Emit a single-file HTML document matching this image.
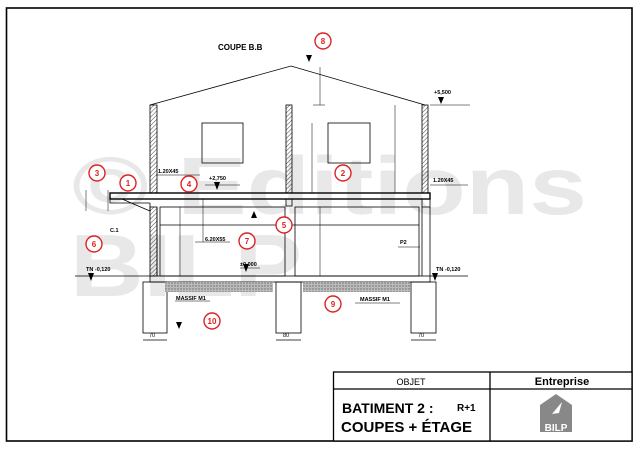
<!DOCTYPE html>
<html><head><meta charset="utf-8"><style>
html,body{margin:0;padding:0;background:#fff;}
svg{display:block;font-family:"Liberation Sans",sans-serif;}
</style></head><body>
<svg width="640" height="452" viewBox="0 0 640 452" xmlns="http://www.w3.org/2000/svg">
<defs>
<pattern id="h" width="3" height="3" patternUnits="userSpaceOnUse" patternTransform="rotate(45)">
<line x1="0" y1="0" x2="0" y2="3" stroke="#333" stroke-width="0.9"/></pattern>
<pattern id="m" width="3" height="3" patternUnits="userSpaceOnUse">
<rect width="3" height="3" fill="#bbb"/><circle cx="1" cy="1" r="0.7" fill="#666"/></pattern>
</defs>
<rect width="640" height="452" fill="#fff"/>
<!-- watermark -->
<text x="72" y="214" font-size="82" font-weight="bold" fill="#e8e8e8" textLength="515" lengthAdjust="spacingAndGlyphs">© Editions</text>
<text x="70" y="296" font-size="88" font-weight="bold" fill="#e8e8e8" textLength="232" lengthAdjust="spacingAndGlyphs">BILP</text>
<!-- frame -->
<rect x="6.5" y="8" width="625.5" height="433" fill="none" stroke="#000" stroke-width="1.6"/>
<!-- title block -->
<rect x="333.5" y="372" width="298.5" height="69" fill="#fff" stroke="#000" stroke-width="1.3"/>
<line x1="333.5" y1="389" x2="632" y2="389" stroke="#000" stroke-width="1.3"/>
<line x1="490" y1="372" x2="490" y2="441" stroke="#000" stroke-width="1.3"/>
<text x="411" y="385" font-size="9" text-anchor="middle">OBJET</text>
<text x="562" y="385" font-size="11" font-weight="bold" text-anchor="middle">Entreprise</text>
<text x="342" y="413" font-size="14" font-weight="bold">BATIMENT 2 :</text>
<text x="457" y="411" font-size="10" font-weight="bold">R+1</text>
<text x="341" y="432" font-size="15" font-weight="bold">COUPES  + ÉTAGE</text>
<path d="M540 405 L556 394 L572 405 L572 432 L540 432 Z" fill="#888"/>
<path d="M552 414 L562 402 L559 413 Z" fill="#fff"/>
<text x="556" y="431" font-size="10" font-weight="bold" fill="#fff" text-anchor="middle">BILP</text>
<!-- title -->
<text x="218" y="50" font-size="8" font-weight="bold">COUPE B.B</text>
<g stroke="#000" fill="none" stroke-width="0.8">
<polyline points="150,105 291,66 425,105"/>
<rect x="150" y="105" width="7" height="88" fill="url(#h)"/>
<rect x="286" y="105" width="6" height="88" fill="url(#h)"/>
<rect x="422" y="105" width="6" height="88" fill="url(#h)"/>
<rect x="150" y="207" width="7" height="69" fill="url(#h)"/>
<rect x="202" y="123" width="41" height="40"/>
<rect x="328" y="123" width="42" height="40"/>
<rect x="110" y="193" width="320" height="6" stroke-width="1.4"/>
<polyline points="110,199 110,203 150,203"/>
<path d="M122 199 L150 211 L150 203"/>
<rect x="286" y="199" width="6" height="7"/>
<rect x="422" y="199" width="8" height="8"/>
<line x1="157" y1="207" x2="157" y2="276"/>
<line x1="422" y1="207" x2="422" y2="276"/>
<line x1="430" y1="207" x2="430" y2="276"/>
<rect x="160" y="207" width="125" height="69"/>
<rect x="295" y="207" width="124" height="69"/>
<line x1="160" y1="225" x2="419" y2="225"/>
<rect x="150" y="276" width="280" height="6"/>
<rect x="143" y="282" width="24" height="51"/>
<rect x="276" y="282" width="25" height="51"/>
<rect x="411" y="282" width="25" height="51"/>
<line x1="75" y1="276" x2="150" y2="276"/>
<line x1="430" y1="276" x2="468" y2="276"/>
<line x1="143" y1="340" x2="167" y2="340"/>
<line x1="276" y1="340" x2="301" y2="340"/>
<line x1="411" y1="340" x2="436" y2="340"/>
<line x1="320" y1="67" x2="320" y2="105" stroke-width="0.5"/>
<line x1="313" y1="105" x2="325" y2="105" stroke-width="0.5"/>
<line x1="312" y1="123" x2="312" y2="193" stroke-width="0.5"/>
<line x1="395" y1="105" x2="395" y2="193" stroke-width="0.5"/>
<line x1="320" y1="207" x2="320" y2="276" stroke-width="0.5"/>
<line x1="180" y1="207" x2="180" y2="276" stroke-width="0.5"/>
<line x1="203" y1="199" x2="203" y2="242" stroke-width="0.5"/>
<line x1="195" y1="242" x2="230" y2="242" stroke-width="0.5"/>
<line x1="86" y1="190" x2="86" y2="211" stroke-width="0.5"/>
<line x1="108" y1="190" x2="108" y2="211" stroke-width="0.5"/>
<line x1="398" y1="247" x2="420" y2="247" stroke-width="0.5"/>
<line x1="205" y1="185" x2="240" y2="185" stroke-width="0.5"/>
<line x1="156" y1="175" x2="200" y2="175" stroke-width="0.5"/>
<line x1="430" y1="185" x2="468" y2="185" stroke-width="0.5"/>
<line x1="430" y1="105" x2="470" y2="105" stroke-width="0.5"/>
<line x1="175" y1="301" x2="210" y2="301" stroke-width="0.5"/>
<line x1="355" y1="303" x2="400" y2="303" stroke-width="0.5"/>
<line x1="240" y1="268" x2="260" y2="268" stroke-width="0.5"/>
</g>
<rect x="165" y="282" width="108" height="10" fill="url(#m)"/>
<rect x="303" y="282" width="107" height="10" fill="url(#m)"/>
<g font-size="5.5" font-weight="bold">
<text x="158" y="173">1.20X45</text>
<text x="433" y="182">1.20X45</text>
<text x="205" y="241">6.20X55</text>
<text x="209" y="180">+2,750</text>
<text x="434" y="94">+5,500</text>
<text x="240" y="266">±0,000</text>
<text x="86" y="271">TN -0,120</text>
<text x="436" y="271">TN -0,120</text>
<text x="176" y="300">MASSIF M1</text>
<text x="360" y="301">MASSIF M1</text>
<text x="400" y="244">P2</text>
<text x="110" y="232">C.1</text>
<text x="149" y="337" font-weight="normal">70</text>
<text x="283" y="337" font-weight="normal">80</text>
<text x="418" y="337" font-weight="normal">70</text>
</g>
<g fill="#000">
<path d="M214 182 L220 182 L217 190 Z"/><path d="M438 97 L444 97 L441 104 Z"/>
<path d="M243 264 L249 264 L246 272 Z"/><path d="M88 273 L94 273 L91 281 Z"/>
<path d="M432 273 L438 273 L435 281 Z"/><path d="M176 322 L182 322 L179 329 Z"/>
<path d="M306 55 L312 55 L309 62 Z"/><path d="M251 218 L257 218 L254 211 Z"/>
</g>
<g fill="#fff" stroke="#d22" stroke-width="1.4">
<circle cx="128" cy="183" r="8"/><circle cx="343" cy="173" r="8"/>
<circle cx="97" cy="173" r="8"/><circle cx="189" cy="184" r="8"/>
<circle cx="284" cy="225" r="8"/><circle cx="94" cy="244" r="8"/>
<circle cx="247" cy="241" r="8"/><circle cx="323" cy="41" r="8"/>
<circle cx="333" cy="304" r="8"/><circle cx="212" cy="321" r="8"/>
</g>
<g fill="#d22" font-size="8" font-weight="bold" text-anchor="middle">
<text x="128" y="186">1</text><text x="343" y="176">2</text><text x="97" y="176">3</text>
<text x="189" y="187">4</text><text x="284" y="228">5</text><text x="94" y="247">6</text>
<text x="247" y="244">7</text><text x="323" y="44">8</text><text x="333" y="307">9</text>
<text x="212" y="324">10</text>
</g>
</svg>
</body></html>
